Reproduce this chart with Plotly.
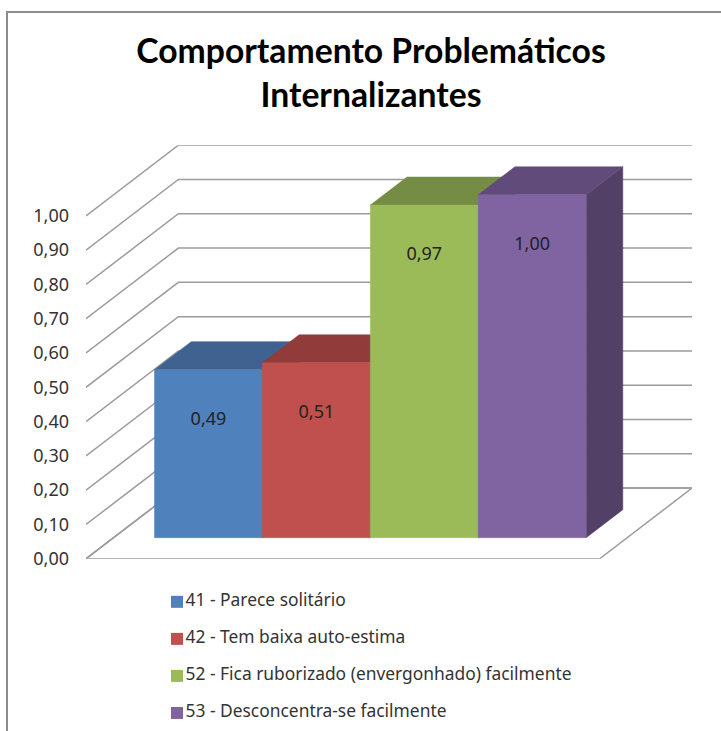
import plotly.graph_objects as go

# Chart content
title_lines = ["Comportamento Problemáticos", "Internalizantes"]
categories = [
    "41 - Parece solitário",
    "42 - Tem baixa auto-estima",
    "52 - Fica ruborizado (envergonhado) facilmente",
    "53 - Desconcentra-se facilmente",
]
values = [0.49, 0.51, 0.97, 1.00]
grid_values = [0.0, 0.1, 0.2, 0.3, 0.4, 0.5, 0.6, 0.7, 0.8, 0.9, 1.0]

# Face colours of each column: front, top, side
front_colors = ["#4f81bd", "#c0504d", "#9bbb59", "#8064a2"]
top_colors = ["#3f6290", "#913c3a", "#748c43", "#604b7a"]
side_colors = ["#385476", "#7a3331", "#617538", "#534066"]

GRID_COLOR = "#9c9c9c"
TEXT_COLOR = "#333333"
FONT = "Noto Sans"
W, H = 721, 731
LAYOUT_HEIGHT = 743

# Oblique projection of the column box: one x unit is one column width
GAP = 0.38                 # space between the floor edge and the first column
FLOOR_WIDTH = 2 * GAP + len(values)
DEPTH_X, DEPTH_Y = 0.856, 0.206   # screen shift from the front to the back of the floor
BAR_NEAR, BAR_FAR = 0.298, 0.695  # column extent along the floor depth (0 front, 1 back)


def project(w, depth, value):
    """Map floor position, depth fraction and value onto the 2D axes."""
    return w + depth * DEPTH_X, value + depth * DEPTH_Y


def polygon(corners):
    pts = [project(*c) for c in corners]
    pts.append(pts[0])
    return [p[0] for p in pts], [p[1] for p in pts]


fig = go.Figure()


def add_face(corners, color):
    xs, ys = polygon(corners)
    fig.add_trace(go.Scatter(
        x=xs, y=ys, mode="lines", fill="toself", fillcolor=color,
        line=dict(color=color, width=0.5), hoverinfo="skip",
        showlegend=False, cliponaxis=False,
    ))


# Wall gridlines
for v in grid_values:
    pts = [project(0, 0, v), project(0, 1, v), project(FLOOR_WIDTH, 1, v)]
    fig.add_trace(go.Scatter(
        x=[p[0] for p in pts], y=[p[1] for p in pts], mode="lines",
        line=dict(color=GRID_COLOR, width=1.5), hoverinfo="skip",
        showlegend=False, cliponaxis=False,
    ))

# Floor outline
floor_x, floor_y = polygon([(0, 0, 0), (FLOOR_WIDTH, 0, 0), (FLOOR_WIDTH, 1, 0), (0, 1, 0)])
fig.add_trace(go.Scatter(
    x=floor_x, y=floor_y, mode="lines",
    line=dict(color=GRID_COLOR, width=1.5), hoverinfo="skip",
    showlegend=False, cliponaxis=False,
))

# Columns, left to right so each one overlaps its neighbour
for i, v in enumerate(values):
    x0, x1 = GAP + i, GAP + i + 1
    add_face([(x1, BAR_NEAR, 0), (x1, BAR_FAR, 0), (x1, BAR_FAR, v), (x1, BAR_NEAR, v)], side_colors[i])
    add_face([(x0, BAR_NEAR, v), (x1, BAR_NEAR, v), (x1, BAR_FAR, v), (x0, BAR_FAR, v)], top_colors[i])
    add_face([(x0, BAR_NEAR, 0), (x1, BAR_NEAR, 0), (x1, BAR_NEAR, v), (x0, BAR_NEAR, v)], front_colors[i])

# Value labels on the front faces
label_drop = 0.147
label_pts = [project(GAP + i + 0.5, BAR_NEAR, v - label_drop) for i, v in enumerate(values)]
fig.add_trace(go.Scatter(
    x=[p[0] for p in label_pts], y=[p[1] for p in label_pts], mode="text",
    text=[f"{v:.2f}".replace(".", ",") for v in values],
    textposition="middle center",
    textfont=dict(family=FONT, size=18, color="#222222"),
    hoverinfo="skip", showlegend=False, cliponaxis=False,
))

# Key entries stacked under the plot, one row per category
fig.add_trace(go.Scatter(
    x=[0] * len(categories), y=list(range(len(categories))),
    mode="markers+text", text=categories, textposition="middle right",
    marker=dict(symbol="square", size=12, color=front_colors),
    textfont=dict(family=FONT, size=17.4, color=TEXT_COLOR),
    xaxis="x2", yaxis="y2", hoverinfo="skip", showlegend=False, cliponaxis=False,
))

fig.update_layout(
    width=W, height=LAYOUT_HEIGHT, autosize=False,
    margin=dict(l=0, r=0, t=0, b=0),
    paper_bgcolor="white", plot_bgcolor="white",
    separators=",.",
    showlegend=False,
    title=dict(
        text="<br>".join(title_lines),
        x=371 / W, xanchor="center", xref="paper",
        y=1 - 62 / H, yanchor="top", yref="container",
        font=dict(family="Lato", size=33.7, color="black", weight="bold"),
    ),
    xaxis=dict(
        domain=[86 / W, 692 / W], range=[0, FLOOR_WIDTH + DEPTH_X],
        visible=False, fixedrange=True,
    ),
    yaxis=dict(
        domain=[1 - 558 / H, 1 - 145 / H], range=[0, 1 + DEPTH_Y],
        tickvals=grid_values, tickformat=".2f", ticks="", ticklabelstandoff=16,
        showgrid=False, zeroline=False, showline=False, fixedrange=True,
        tickfont=dict(family=FONT, size=18, color=TEXT_COLOR),
    ),
    xaxis2=dict(domain=[177 / W, 1], range=[0, 1], visible=False, fixedrange=True, anchor="y2"),
    yaxis2=dict(
        domain=[1 - 712 / H, 1 - 601 / H], range=[len(categories) - 1, 0],
        visible=False, fixedrange=True, anchor="x2",
    ),
    # Chart frame, cropped at the right and bottom of the page
    shapes=[dict(
        type="path", xref="paper", yref="paper",
        path=f"M {7 / W} 0 L {7 / W} {1 - 12 / H} L 1 {1 - 12 / H}",
        line=dict(color="#8c8c8c", width=2),
    )],
)

fig.write_html("out.html", config=dict(displayModeBar=False))
